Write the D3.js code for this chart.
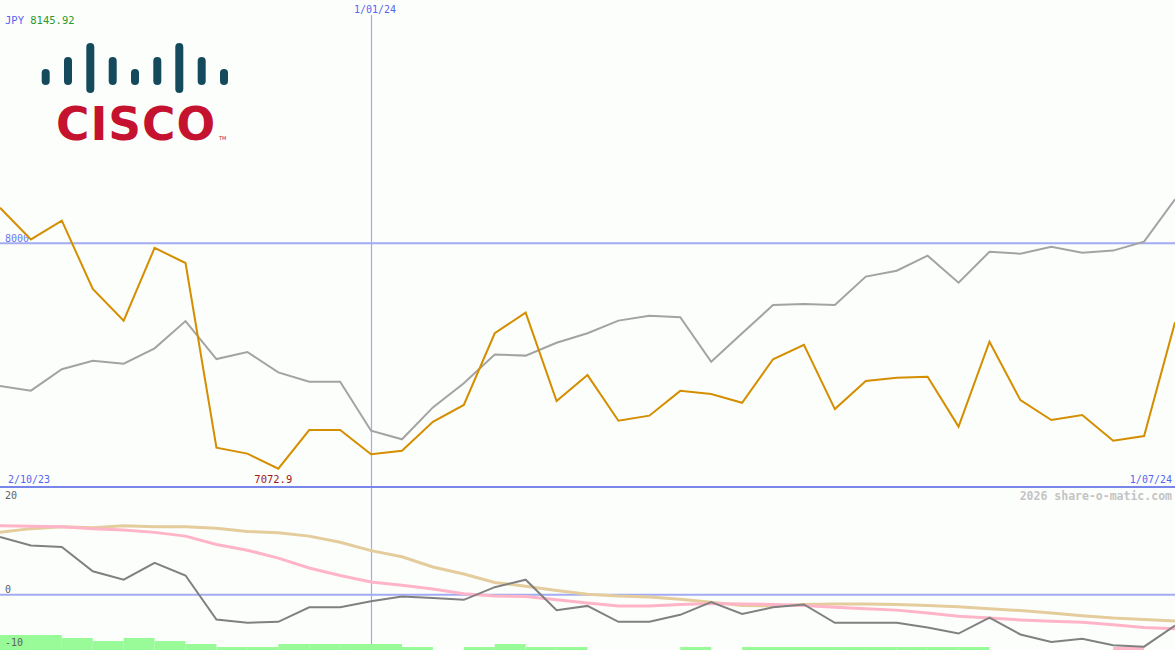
<!DOCTYPE html>
<html>
<head>
<meta charset="utf-8">
<script src="https://cdn.jsdelivr.net/npm/d3@7/dist/d3.min.js"></script>
<style>
html,body{margin:0;padding:0;background:#fcfefc;}
svg{display:block;}
text{font-family:"DejaVu Sans Mono",monospace;}
</style>
</head>
<body>
<svg id="chart" width="1175" height="650"></svg>
<script>
// ---- data (weekly, 2/10/23 .. 1/07/24) ----
const price = [8145.92,8016,8093,7812,7682,7981,7919,7159,7135,7072.9,
  7232,7232,7132,7147,7266,7335,7630,7715,7351,7458,
  7270,7291,7393,7380,7344,7523,7582,7318,7434,7447,
  7451,7246,7595,7355,7273,7294,7188,7207,7675];
const compare = [7413,7394,7482,7517,7505,7568,7680,7524,7553,7469,
  7431,7431,7229,7194,7325,7424,7543,7538,7591,7630,
  7682,7702,7696,7513,7630,7746,7750,7746,7863,7887,
  7949,7838,7965,7957,7986,7961,7970,8007,8181];
const osc = [12.3,10.5,10.2,5.0,3.2,6.8,4.1,-5.3,-6.0,-5.8,
  -2.7,-2.7,-1.4,-0.4,-0.7,-1.1,1.6,3.2,-3.3,-2.4,
  -5.8,-5.8,-4.3,-1.6,-4.1,-2.7,-2.1,-6.0,-6.0,-6.0,
  -7.0,-8.3,-4.9,-8.5,-10.1,-9.4,-10.8,-11.1,-6.6];
const oscFast = [14.7,14.6,14.5,14.1,13.8,13.3,12.5,10.7,9.5,7.8,
  5.7,4.1,2.7,2.0,1.2,0.2,-0.3,-0.4,-1.1,-1.8,
  -2.4,-2.4,-2.1,-1.9,-2.0,-2.1,-2.3,-2.7,-3.0,-3.3,
  -3.9,-4.6,-5.0,-5.4,-5.7,-5.9,-6.4,-7.0,-7.3];
const oscSlow = [13.3,14.1,14.5,14.3,14.7,14.5,14.5,14.2,13.5,13.2,
  12.5,11.2,9.4,8.1,5.9,4.4,2.6,1.8,0.9,0.1,
  -0.3,-0.5,-1.0,-1.6,-2.3,-2.4,-2.1,-2.0,-2.0,-2.1,
  -2.3,-2.6,-3.0,-3.4,-3.9,-4.5,-5.0,-5.3,-5.6];
const hist = [5,5,4,3,4,3,2,1,1,2,
  2,2,2,1,0,1,2,1,1,0,
  0,0,1,0,1,1,1,1,1,1,
  1,1,0,0,0,0,-1,0];
const dateLabels = ["2/10/23","1/01/24","1/07/24"];
const dateIdx = [0,12,38];
const priceTicks = [8000];
const oscTicks = [20,0,-10];
const currency = "JPY";
const highLabel = "8145.92";
const lowLabel = "7072.9";

// ---- layout ----
const W = 1175, H = 650;
const svg = d3.select("#chart");
svg.append("rect").attr("width",W).attr("height",H).attr("fill","#fcfefc");

const x = d3.scaleLinear().domain([0, price.length-1]).range([0, W]);
const y = d3.scaleLinear().domain([7072.9, 8000]).range([468.7, 243.3]);
const yo = d3.scaleLinear().domain([-10, 20]).range([641.5, 501]);
const yh = d3.scaleLinear().domain([0, 1]).range([0, 3]);

const gridBlue = "#a3acf2";
// logo
const logo = svg.append("g");
const barsX = [45.7,68,90.3,112.7,135,157.3,179.3,201.7,224];
const barsT = [69,57,43,57,69,57,43,57,69];
const barsB = [85,85,93,85,85,85,93,85,85];
barsX.forEach((bx,i)=>{
  logo.append("rect").attr("x",bx-4).attr("y",barsT[i]).attr("width",8)
    .attr("height",barsB[i]-barsT[i]).attr("rx",4).attr("fill","#154a5c");
});
logo.append("text").attr("x",56).attr("y",140).text("CISCO")
  .style("font-family","'DejaVu Sans',sans-serif").style("font-weight","bold")
  .style("font-size","45.5px").attr("fill","#c4122f").attr("letter-spacing","1px");
logo.append("text").attr("x",219).attr("y",140).text("TM")
  .style("font-family","'DejaVu Sans',sans-serif").style("font-size","5px").attr("fill","#c4122f");

// gridlines
priceTicks.forEach(t=>{
  svg.append("line").attr("x1",0).attr("x2",W).attr("y1",y(t)).attr("y2",y(t))
    .attr("stroke",gridBlue).attr("stroke-width",2);
  svg.append("text").attr("x",5).attr("y",y(t)-1.5).text(t)
    .attr("fill","#6b78f0").style("font-size","10px");
});
// vertical date line
const vx = Math.round(x(dateIdx[1]))+0.5;
svg.append("line").attr("x1",vx).attr("x2",vx)
  .attr("y1",15).attr("y2",H).attr("stroke","#9ea8fc").attr("stroke-width",1.2);
// zero line of oscillator
svg.append("line").attr("x1",0).attr("x2",W).attr("y1",yo(0)).attr("y2",yo(0))
  .attr("stroke",gridBlue).attr("stroke-width",2);
// separator
svg.append("line").attr("x1",0).attr("x2",W).attr("y1",487).attr("y2",487)
  .attr("stroke","#7886ea").attr("stroke-width",2.2);

// histogram bars
svg.append("g").selectAll("rect").data(hist).join("rect")
  .attr("x",(d,i)=>x(i)).attr("width",(d,i)=>x(i+1)-x(i))
  .attr("y",d=>H-yh(Math.abs(d))).attr("height",d=>yh(Math.abs(d)))
  .attr("fill",d=>d>=0?"#98fb98":"#ffb6c8");

// oscillator lines
const lo = d3.line().x((d,i)=>x(i)).y(d=>yo(d));
svg.append("path").attr("d",lo(oscSlow)).attr("fill","none").attr("stroke","#e4cc9c").attr("stroke-width",3);
svg.append("path").attr("d",lo(oscFast)).attr("fill","none").attr("stroke","#ffb4c8").attr("stroke-width",3);
svg.append("path").attr("d",lo(osc)).attr("fill","none").attr("stroke","#808080").attr("stroke-width",2);

// price lines
const lp = d3.line().x((d,i)=>x(i)).y(d=>y(d));
svg.append("path").attr("d",lp(compare)).attr("fill","none").attr("stroke","#a3a3a3").attr("stroke-width",2);
svg.append("path").attr("d",lp(price)).attr("fill","none").attr("stroke","#d48e00").attr("stroke-width",2);

// labels
const t0 = svg.append("text").attr("x",5).attr("y",24).style("font-size","10.5px");
t0.append("tspan").attr("fill","#5566ee").text(currency+" ");
t0.append("tspan").attr("fill","#2a9a2a").text(highLabel);

svg.append("text").attr("x",x(dateIdx[1])+4).attr("y",13).attr("text-anchor","middle")
  .attr("fill","#5566ee").style("font-size","10px").text(dateLabels[1]);
svg.append("text").attr("x",8).attr("y",483).attr("fill","#5566ee").style("font-size","10px").text(dateLabels[0]);
svg.append("text").attr("x",1172).attr("y",483).attr("text-anchor","end").attr("fill","#5566ee").style("font-size","10px").text(dateLabels[2]);
const minI = price.indexOf(d3.min(price));
svg.append("text").attr("x",x(minI)-5).attr("y",483).attr("text-anchor","middle")
  .attr("fill","#a01818").style("font-size","10.5px").text(lowLabel);

// osc tick labels
const oscLabelY = [499, 593, 646];
oscTicks.forEach((t,i)=>{
  svg.append("text").attr("x",5).attr("y",oscLabelY[i]).text(t)
    .attr("fill","#606060").style("font-size","10px");
});
svg.append("text").attr("x",1172).attr("y",500).attr("text-anchor","end")
  .attr("fill","#c4c4c4").style("font-size","11.5px").style("font-weight","bold")
  .text("2026 share-o-matic.com");
</script>
</body>
</html>
